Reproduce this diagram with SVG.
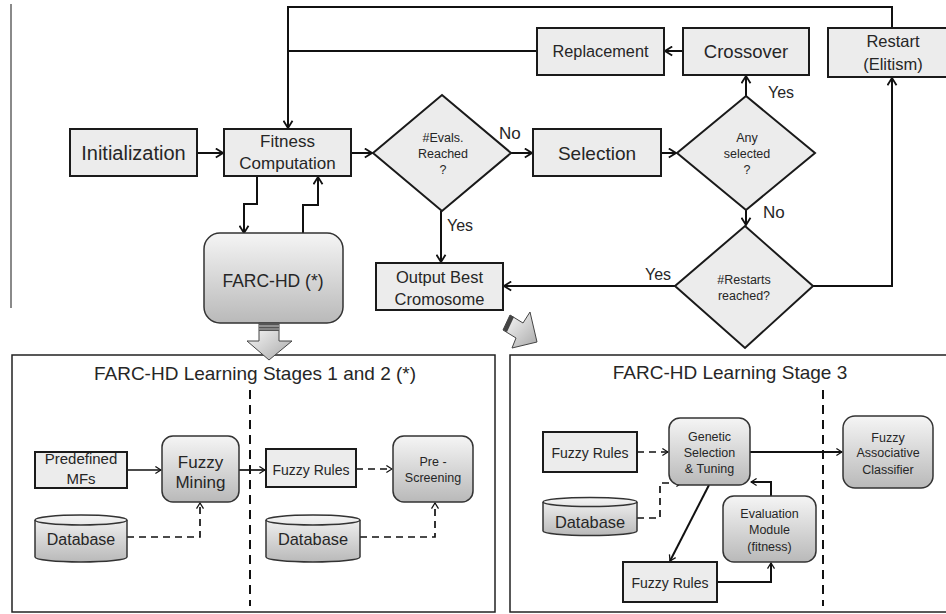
<svg xmlns="http://www.w3.org/2000/svg" width="946" height="614" viewBox="0 0 946 614">
<defs>
<marker id="arr" viewBox="0 0 10 12" refX="9" refY="6" markerWidth="9" markerHeight="11" markerUnits="userSpaceOnUse" orient="auto">
<path d="M1,1 L9,6 L1,11" fill="none" stroke="#111" stroke-width="2"/>
</marker>
<marker id="arrs" viewBox="0 0 10 12" refX="9" refY="6" markerWidth="7" markerHeight="9" markerUnits="userSpaceOnUse" orient="auto">
<path d="M1,1 L9,6 L1,11" fill="none" stroke="#111" stroke-width="1.8"/>
</marker>
<linearGradient id="rg" x1="0" y1="0" x2="0" y2="1">
<stop offset="0" stop-color="#f5f5f5"/>
<stop offset="1" stop-color="#b9b9b9"/>
</linearGradient>
<linearGradient id="bg" x1="0" y1="0" x2="1" y2="1">
<stop offset="0" stop-color="#ffffff"/>
<stop offset="1" stop-color="#a8a8a8"/>
</linearGradient>
</defs>
<style>
.box{fill:#ececec;stroke:#1a1a1a;stroke-width:2}
.rbox{fill:url(#rg);stroke:#333;stroke-width:1.5}
.dia{fill:#ececec;stroke:#1a1a1a;stroke-width:2}
.panel{fill:#fff;stroke:#222;stroke-width:1.5}
text{font-family:"Liberation Sans",Arial,sans-serif;fill:#262626;text-anchor:middle}
.lbl{text-anchor:start}
.c{fill:none;stroke:#111;stroke-width:2}
.cs{fill:none;stroke:#111;stroke-width:1.7}
.d{fill:none;stroke:#111;stroke-width:1.7;stroke-dasharray:7,5}
.sep{fill:none;stroke:#111;stroke-width:2;stroke-dasharray:9,6}
</style>
<rect width="946" height="614" fill="#fff"/>
<line x1="11" y1="4" x2="11" y2="308" stroke="#8a8a8a" stroke-width="2"/>

<!-- panels -->
<g id="panel-left">
<rect class="panel" x="12" y="355" width="483" height="257"/>
<text x="255" y="380" font-size="19">FARC-HD Learning Stages 1 and 2 (*)</text>
</g>
<g id="panel-right">
<rect class="panel" x="510" y="355" width="450" height="257"/>
<text x="730" y="379" font-size="19">FARC-HD Learning Stage 3</text>
</g>

<g id="connectors">
<path class="c" d="M197,153 H223" marker-end="url(#arr)"/>
<path class="c" d="M351,153 H372" marker-end="url(#arr)"/>
<path class="c" d="M511,153 H532" marker-end="url(#arr)"/>
<path class="c" d="M661,153 H676" marker-end="url(#arr)"/>
<path class="c" d="M746,96 V76" marker-end="url(#arr)"/>
<path class="c" d="M683,51 H665" marker-end="url(#arr)"/>
<path class="c" d="M537,51 H288"/>
<path class="c" d="M892,28 V7 H288 V128" marker-end="url(#arr)"/>
<path class="c" d="M746,210 V225" marker-end="url(#arr)"/>
<path class="c" d="M813,286 H892 V78" marker-end="url(#arr)"/>
<path class="c" d="M675,286 H504" marker-end="url(#arr)"/>
<path class="c" d="M441,211 V262" marker-end="url(#arr)"/>
<path class="c" d="M257,176 V204 H244 V233" marker-end="url(#arr)"/>
<path class="c" d="M303,233 V205 H318 V177" marker-end="url(#arr)"/>

<path class="sep" d="M250,390 V606"/>
<path class="cs" d="M127,470 H161" marker-end="url(#arrs)"/>
<path class="cs" d="M239,470 H265" marker-end="url(#arrs)"/>
<path class="d" d="M356,469 H392" marker-end="url(#arrs)"/>
<path class="d" d="M127,537 H200 V503" marker-end="url(#arrs)"/>
<path class="d" d="M360,537 H435 V503" marker-end="url(#arrs)"/>

<path class="sep" d="M823,390 V606"/>
<path class="d" d="M637,452 H668" marker-end="url(#arrs)"/>
<path class="c" d="M750,452 H842" marker-end="url(#arrs)"/>
<path class="d" d="M637,518 H660 V483 H682" marker-end="url(#arrs)"/>
<path class="c" d="M709,485 L670,561" marker-end="url(#arrs)"/>
<path class="c" d="M717,582 H771 V563" marker-end="url(#arrs)"/>
<path class="c" d="M771,496 V482 H751" marker-end="url(#arrs)"/>
</g>

<g id="init"><rect class="box" x="70" y="129" width="127" height="47"/><text x="133.5" y="160" font-size="20">Initialization</text></g>
<g id="fitness"><rect class="box" x="224" y="129" width="127" height="47"/><text x="287.5" y="147" font-size="17">Fitness</text><text x="287.5" y="169" font-size="17">Computation</text></g>
<g id="evals"><polygon class="dia" points="442,95 511,153 442,211 373,153"/><text x="443" y="141.5" font-size="12.5">#Evals.</text><text x="443" y="157.5" font-size="12.5">Reached</text><text x="443" y="174" font-size="12.5">?</text></g>
<g id="selection"><rect class="box" x="533" y="129" width="128" height="47"/><text x="597" y="160" font-size="19">Selection</text></g>
<g id="anysel"><polygon class="dia" points="746,96 815,153 746,210 677,153"/><text x="747" y="141.5" font-size="12.5">Any</text><text x="747" y="157.5" font-size="12.5">selected</text><text x="747" y="174" font-size="12.5">?</text></g>
<g id="crossover"><rect class="box" x="683" y="28" width="126" height="47"/><text x="746" y="58" font-size="18.5">Crossover</text></g>
<g id="replacement"><rect class="box" x="537" y="28" width="127" height="47"/><text x="600.5" y="57" font-size="16.3">Replacement</text></g>
<g id="restart"><rect class="box" x="828" y="28" width="130" height="49"/><text x="893" y="47" font-size="16.5">Restart</text><text x="893" y="70" font-size="16.5">(Elitism)</text></g>
<g id="restarts"><polygon class="dia" points="745,226 813,286 745,348 675,286"/><text x="744" y="283.5" font-size="12.5">#Restarts</text><text x="744" y="299.5" font-size="12.5">reached?</text></g>
<g id="output"><rect class="box" x="376" y="263" width="127" height="47"/><text x="439.5" y="283" font-size="16.5">Output Best</text><text x="439.5" y="305" font-size="16.5">Cromosome</text></g>
<g id="farchd"><rect class="rbox" x="204" y="233" width="139" height="90" rx="16"/><text x="273" y="287" font-size="17.5">FARC-HD (*)</text></g>

<g id="labels">
<text class="lbl" x="447" y="231" font-size="16">Yes</text>
<text class="lbl" x="499" y="139" font-size="17">No</text>
<text class="lbl" x="768" y="98" font-size="16">Yes</text>
<text class="lbl" x="763" y="218" font-size="17">No</text>
<text class="lbl" x="645" y="280" font-size="16">Yes</text>
</g>

<g id="bigarrow-down">
<polygon points="259,323 279,323 279,341 292,341 269,360 247,341 259,341" fill="url(#bg)" stroke="#444" stroke-width="1"/>
<rect x="259" y="323" width="20" height="8" fill="#555"/>
<line x1="259" y1="326" x2="279" y2="326" stroke="#ccc" stroke-width="1"/>
<line x1="259" y1="329" x2="279" y2="329" stroke="#ccc" stroke-width="0.8"/>
</g>
<g id="bigarrow-diag">
<polygon points="503,330 510,315 523,323 530,312 537,342 512,348 516,338" fill="url(#bg)" stroke="#444" stroke-width="1"/>
<polygon points="503,330 510,315 514,317 507,332" fill="#444"/>
</g>

<g id="predef"><rect class="box" x="35" y="452" width="92" height="36" stroke-width="1.5"/><text x="81" y="464" font-size="15">Predefined</text><text x="81" y="484" font-size="15">MFs</text></g>
<g id="fmining"><rect class="rbox" x="162" y="436" width="77" height="66" rx="11"/><text x="200.5" y="468" font-size="17">Fuzzy</text><text x="200.5" y="488" font-size="17">Mining</text></g>
<g id="frules1"><rect class="box" x="266" y="449" width="90" height="38" stroke-width="1.5"/><text x="311" y="475" font-size="14">Fuzzy Rules</text></g>
<g id="prescreen"><rect class="rbox" x="393" y="436" width="80" height="66" rx="11"/><text x="433" y="466" font-size="12.5">Pre -</text><text x="433" y="482" font-size="12.5">Screening</text></g>
<g id="db1"><path d="M35,520 A46,5 0 0 1 127,520 V557 A46,5 0 0 1 35,557 Z" fill="url(#rg)" stroke="#333" stroke-width="1.5"/><path d="M35,520 A46,5 0 0 0 127,520" fill="none" stroke="#333" stroke-width="1.5"/><text x="81" y="545" font-size="16">Database</text></g>
<g id="db2"><path d="M266,520 A47,5 0 0 1 360,520 V557 A47,5 0 0 1 266,557 Z" fill="url(#rg)" stroke="#333" stroke-width="1.5"/><path d="M266,520 A47,5 0 0 0 360,520" fill="none" stroke="#333" stroke-width="1.5"/><text x="313" y="545" font-size="16.4">Database</text></g>

<g id="frules2"><rect class="box" x="543" y="432" width="94" height="40" stroke-width="1.5"/><text x="590" y="458" font-size="14">Fuzzy Rules</text></g>
<g id="genetic"><rect class="rbox" x="669" y="418" width="81" height="67" rx="11"/><text x="709.5" y="440.5" font-size="12.5">Genetic</text><text x="709.5" y="456.5" font-size="12.5">Selection</text><text x="709.5" y="472.5" font-size="12.5">&amp; Tuning</text></g>
<g id="fac"><rect class="rbox" x="843" y="416" width="90" height="72" rx="12"/><text x="888" y="441.5" font-size="12.5">Fuzzy</text><text x="888" y="457" font-size="12.5">Associative</text><text x="888" y="473.5" font-size="12.5">Classifier</text></g>
<g id="db3"><path d="M543,502 A47,4.5 0 0 1 637,502 V531 A47,4.5 0 0 1 543,531 Z" fill="url(#rg)" stroke="#333" stroke-width="1.5"/><path d="M543,502 A47,4.5 0 0 0 637,502" fill="none" stroke="#333" stroke-width="1.5"/><text x="590" y="528" font-size="16.4">Database</text></g>
<g id="evalmod"><rect class="rbox" x="723" y="496" width="93" height="66" rx="11"/><text x="769.5" y="517.5" font-size="12.5">Evaluation</text><text x="769.5" y="533.5" font-size="12.5">Module</text><text x="769.5" y="550.5" font-size="12.5">(fitness)</text></g>
<g id="frules3"><rect class="box" x="623" y="562" width="94" height="40" stroke-width="1.5"/><text x="670" y="588" font-size="14">Fuzzy Rules</text></g>
</svg>
